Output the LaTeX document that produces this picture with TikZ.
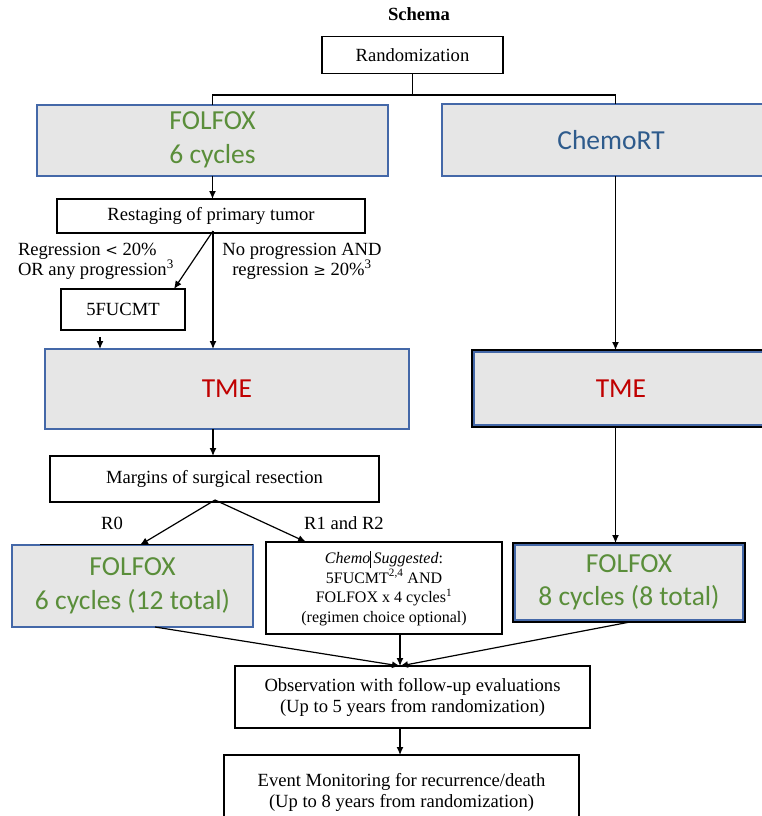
\documentclass[tikz,border=0pt]{standalone}
\usepackage{fontspec}
\setmainfont{Liberation Serif}
\newfontfamily\calib{Carlito}
\usetikzlibrary{arrows.meta,calc}
\definecolor{boxfill}{HTML}{E6E6E6}
\definecolor{boxblue}{HTML}{4468A8}
\definecolor{fgreen}{HTML}{5A8E3A}
\definecolor{cblue}{HTML}{2E5B8C}
\definecolor{tred}{HTML}{C00000}
\begin{document}
\begin{tikzpicture}[x=1pt,y=-1pt,
  every node/.style={inner sep=0pt, outer sep=0pt},
  plain/.style={draw=black, line width=1.3pt, fill=white, align=center,
    font=\fontsize{18.6}{21}\selectfont},
  small/.style={plain, font=\fontsize{16}{19.5}\selectfont},
  grey/.style={draw=boxblue, line width=2pt, fill=boxfill, align=center,
    font=\calib\fontsize{27.5}{33.5}\selectfont},
  lbl/.style={font=\fontsize{18.6}{20}\selectfont},
  arr/.style={line width=1.2pt, -{Latex[length=8pt,width=7pt]}},
  ln/.style={line width=1.2pt},
  inner/.style={draw=boxblue, line width=1.6pt}
]
\useasboundingbox (0,0) rectangle (761,816);

% title and randomization
\node[font=\bfseries\fontsize{18.6}{21}\selectfont] (title) at (419,14) {Schema};
\node[plain, minimum width=181pt, minimum height=37pt] (rand) at (412.5,55) {Randomization};

% treatment arms
\node[grey, minimum width=351pt, minimum height=71pt, text=fgreen] (fol1) at (212.5,140) {FOLFOX\\6 cycles};
\node[grey, minimum width=338pt, minimum height=72pt, text=cblue] (crt) at (611,140) {ChemoRT};
\coordinate (rcol) at (615.5,0);
\coordinate (br) at (412.5,95);

% left arm
\node[plain, minimum width=308pt, minimum height=34pt] (rest) at (211,216) {Restaging of primary tumor};
\node[plain, minimum width=124pt, minimum height=41pt] (fu) at (123,309.5) {5FUCMT};
\node[grey, minimum width=364pt, minimum height=80pt, text=tred] (tmeL) at (227,389) {TME};
\node[plain, minimum width=329pt, minimum height=46pt] (marg) at (214.5,479) {Margins of surgical resection};
\node[grey, minimum width=241pt, minimum height=82pt, text=fgreen] (fo2) at (132.5,586) {FOLFOX\\6 cycles (12 total)};
\node[small, minimum width=236pt, minimum height=92pt] (chemo) at (384,588)
  {\textit{Chemo}\rule[-4pt]{0.7pt}{17pt}\,\textit{Suggested}:\\
   5FUCMT\textsuperscript{2,4} AND\\
   FOLFOX x 4 cycles\textsuperscript{1}\\
   (regimen choice optional)};

% right arm
\node[grey, draw=black, line width=1.5pt, minimum width=298pt, minimum height=77pt, text=tred] (tmeR) at (621,388.5) {TME};
\draw[inner] ([shift={(2,2)}]tmeR.north west) rectangle ([shift={(-2,-2)}]tmeR.south east);
\node[grey, draw=black, line width=1.5pt, minimum width=232pt, minimum height=79pt, text=fgreen] (fo3) at (629,582.5) {FOLFOX\\8 cycles (8 total)};
\draw[inner] ([shift={(2,2)}]fo3.north west) rectangle ([shift={(-2,-2)}]fo3.south east);
\draw[line width=1pt] ([xshift=28pt,yshift=1pt]fo2.north west) -- ([yshift=1pt]fo2.north east);

% follow-up
\node[plain, minimum width=355pt, minimum height=62pt] (obs) at (412.5,697)
  {Observation with follow-up evaluations\\(Up to 5 years from randomization)};
\node[plain, minimum width=355pt, minimum height=74pt] (ev) at (401.5,792)
  {Event Monitoring for recurrence/death\\(Up to 8 years from randomization)};

% branch labels
\node[lbl, align=left, anchor=west] (lab1) at (18,261) {Regression {\fontspec{DejaVu Serif}\fontsize{15}{15}\selectfont<} 20\%\\OR any progression\textsuperscript{3}};
\node[lbl, align=center] (lab2) at (302,261) {No progression AND\\regression {\fontspec{DejaVu Serif}\fontsize{15}{15}\selectfont≥} 20\%\textsuperscript{3}};
\node[lbl] (r0) at (112,523) {R0};
\node[lbl] (r12) at (344,523) {R1 and R2};

% connectors
\draw[ln] (rand.south) -- (br);
\draw[ln] (fol1.north) |- (br) -| (crt.north -| rcol);
\draw[arr] (fol1.south) -- (fol1.south |- rest.north);
\coordinate (sp) at (213,231);
\draw[arr] (sp) -- ([xshift=51pt]fu.north);
\draw[arr] (sp) -- (sp |- tmeL.north);
\draw[arr] ([xshift=-23pt,yshift=-7pt]fu.south) -- ([xshift=-23pt]fu.south |- tmeL.north);
\draw[arr] (tmeL.south -| sp) -- (marg.north -| sp);
\coordinate (sp2) at (215,500);
\draw[arr] (sp2) -- ([xshift=7.5pt]fo2.north);
\draw[arr] (sp2) -- ([xshift=-78pt]chemo.north);
\draw[arr] (crt.south -| rcol) -- (tmeR.north -| rcol);
\draw[arr] (tmeR.south -| rcol) -- (fo3.north -| rcol);
\coordinate (join) at (400,666);
\draw[arr] ([xshift=22.5pt]fo2.south) -- (join);
\draw[arr] (chemo.south -| join) -- (join);
\draw[arr] ([xshift=1pt]fo3.south) -- (join);
\draw[arr] (obs.south -| join) -- (ev.north -| join);
\end{tikzpicture}
\end{document}
